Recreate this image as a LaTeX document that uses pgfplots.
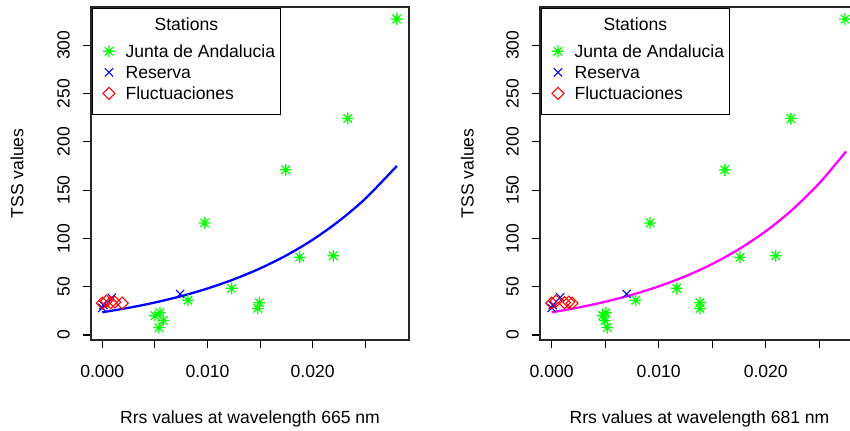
\documentclass[border=0pt]{standalone}
\usepackage{fontspec}
\setmainfont{Liberation Sans}
\usepackage{pgfplots}
\pgfplotsset{compat=1.18}

\definecolor{rgreen}{RGB}{0,255,0}
\definecolor{rblue}{RGB}{0,0,255}
\definecolor{rred}{RGB}{255,0,0}
\definecolor{rmagenta}{RGB}{255,0,255}

% R-like plot symbols: pch 8 (star) and pch 5 (diamond)
\pgfdeclareplotmark{rstar}{%
  \pgfpathmoveto{\pgfqpoint{-\pgfplotmarksize}{0pt}}%
  \pgfpathlineto{\pgfqpoint{\pgfplotmarksize}{0pt}}%
  \pgfpathmoveto{\pgfqpoint{0pt}{-\pgfplotmarksize}}%
  \pgfpathlineto{\pgfqpoint{0pt}{\pgfplotmarksize}}%
  \pgfpathmoveto{\pgfqpoint{-.707\pgfplotmarksize}{-.707\pgfplotmarksize}}%
  \pgfpathlineto{\pgfqpoint{.707\pgfplotmarksize}{.707\pgfplotmarksize}}%
  \pgfpathmoveto{\pgfqpoint{-.707\pgfplotmarksize}{.707\pgfplotmarksize}}%
  \pgfpathlineto{\pgfqpoint{.707\pgfplotmarksize}{-.707\pgfplotmarksize}}%
  \pgfusepathqstroke}
\pgfdeclareplotmark{rdiamond}{%
  \pgfpathmoveto{\pgfqpoint{0pt}{\pgfplotmarksize}}%
  \pgfpathlineto{\pgfqpoint{\pgfplotmarksize}{0pt}}%
  \pgfpathlineto{\pgfqpoint{0pt}{-\pgfplotmarksize}}%
  \pgfpathlineto{\pgfqpoint{-\pgfplotmarksize}{0pt}}%
  \pgfpathclose\pgfusepathqstroke}

% frame and title round the legend, as R's legend(title=) draws them
\tikzset{legframe/.style={black, line width=0.6pt}}

\pgfplotsset{
  grn/.style={only marks, mark=rstar, mark size=3.4pt, rgreen, line width=0.7pt},
  blu/.style={only marks, mark=x, mark size=3.3pt, rblue, line width=0.6pt},
  rd/.style={only marks, mark=rdiamond, mark size=3.4pt, rred, line width=0.6pt},
  rpanel/.style={
    scale only axis, anchor=south west, at={(0cm,0cm)},
    height=6.66cm,
    ymin=-5.2, ymax=339.5,
    font=\fontsize{10}{12}\selectfont,
    axis line style={line width=0.6pt, black!85},
    tick style={line width=0.6pt, black},
    tick align=outside, major tick length=0.16cm,
    xtick pos=left, ytick pos=left,
    xtick={0,0.005,0.01,0.015,0.02,0.025},
    xticklabels={0.000,,0.010,,0.020,},
    scaled x ticks=false,
    ytick={0,50,100,150,200,250,300},
    yticklabels={0,50,100,150,200,250,300},
    yticklabel style={rotate=90},
    xticklabel shift=0.22cm,
    yticklabel shift=0.14cm,
    xlabel style={at={(axis description cs:0.5,-0.237)}, anchor=center},
    legend image code/.code={%
        \path (0cm,-0.05cm) (0.534cm,0.05cm);
        \draw[mark repeat=2,mark phase=2,##1]
        plot coordinates {(0.1cm,0cm) (0.214cm,0cm) (0.33cm,0cm)};},
    legend style={at={(axis description cs:0,1)}, anchor=north west,
        xshift=0.126cm, yshift=-0.67cm,
        draw=none, fill=none,
        font=\fontsize{10}{12}\selectfont,
        inner xsep=0pt, inner ysep=0pt, row sep=0pt,
        nodes={inner sep=0pt, text height=0.337cm, text depth=0.083cm}},
    legend cell align=left,
  },
}

\begin{document}
\begin{tikzpicture}
\path[use as bounding box, clip] (0,0) rectangle (17,8.6);

% ---- left panel: 665 nm
\begin{scope}[shift={(1.82,1.80)}]
\begin{axis}[rpanel, width=6.36cm,
  xmin=-0.00107, xmax=0.02915,
  xlabel={Rrs values at wavelength 665 nm},
  ylabel={TSS values},
  ylabel style={at={(axis description cs:-0.2327,0.5)}, anchor=center},
  legend style={name=legL},
]
\addplot[grn] coordinates {
  (0.02799,327) (0.02333,224) (0.01743,171) (0.00973,116)
  (0.01876,80.5) (0.02196,82) (0.0123,48.3) (0.00815,36)
  (0.01493,33.4) (0.01477,27.5) (0.00501,20) (0.00548,23)
  (0.0058,15) (0.00539,7.6)
};
\addlegendentry{Junta de Andalucia}
\addplot[blu] coordinates {
  (0,28) (0.0001,31) (0.0009,38.5) (0.0074,42.5)
};
\addlegendentry{Reserva}
\addplot[rd] coordinates {
  (0,33) (0.0004,35) (0.0008,33.5) (0.0012,34) (0.0019,33)
};
\addlegendentry{Fluctuaciones}
\addplot[rblue, line width=1.3pt, smooth, forget plot] coordinates {
  (0,23.5) (0.0025,28.1) (0.005,33.6) (0.0075,40.2) (0.01,48.1)
  (0.0125,57.6) (0.015,68.9) (0.0175,82.4) (0.02,98.6)
  (0.0225,118.0) (0.025,141.1) (0.028,175.0)
};
\end{axis}
\draw[legframe] ([shift={(-0.1cm,0.644cm)}]legL.north west)
  rectangle ([shift={(0.11cm,-0.204cm)}]legL.south east);
\node[font=\fontsize{10}{12}\selectfont, inner sep=0pt, anchor=center]
  at ([shift={(0.0cm,0.33cm)}]legL.north) {Stations};
\end{scope}

% ---- right panel: 681 nm
\begin{scope}[shift={(10.80,1.80)}]
\begin{axis}[rpanel, width=6.38cm,
  xmin=-0.00109, xmax=0.02871,
  xlabel={Rrs values at wavelength 681 nm},
  ylabel={TSS values},
  ylabel style={at={(axis description cs:-0.228,0.5)}, anchor=center},
  legend style={name=legR},
]
\addplot[grn] coordinates {
  (0.02741,327) (0.02234,224) (0.01617,171) (0.00919,116)
  (0.0176,80.5) (0.02093,82) (0.01168,48.3) (0.00785,36)
  (0.01386,33.4) (0.01386,27.5) (0.00476,20) (0.00507,23)
  (0.00498,15) (0.0052,7.6)
};
\addlegendentry{Junta de Andalucia}
\addplot[blu] coordinates {
  (0,28) (0.0001,31) (0.0008,39) (0.0070,42.5)
};
\addlegendentry{Reserva}
\addplot[rd] coordinates {
  (0,33) (0.0004,35) (0.0012,33.5) (0.0016,34) (0.0019,33)
};
\addlegendentry{Fluctuaciones}
\addplot[rmagenta, line width=1.3pt, smooth, forget plot] coordinates {
  (0,23.5) (0.0025,28.4) (0.005,34.4) (0.0075,41.6) (0.01,50.3)
  (0.0125,60.8) (0.015,73.5) (0.0175,88.9) (0.02,107.4)
  (0.0225,129.9) (0.025,157.1) (0.0275,190.0)
};
\end{axis}
\draw[legframe] ([shift={(-0.1cm,0.644cm)}]legR.north west)
  rectangle ([shift={(0.11cm,-0.204cm)}]legR.south east);
\node[font=\fontsize{10}{12}\selectfont, inner sep=0pt, anchor=center]
  at ([shift={(0.0cm,0.33cm)}]legR.north) {Stations};
\end{scope}
\end{tikzpicture}
\end{document}
